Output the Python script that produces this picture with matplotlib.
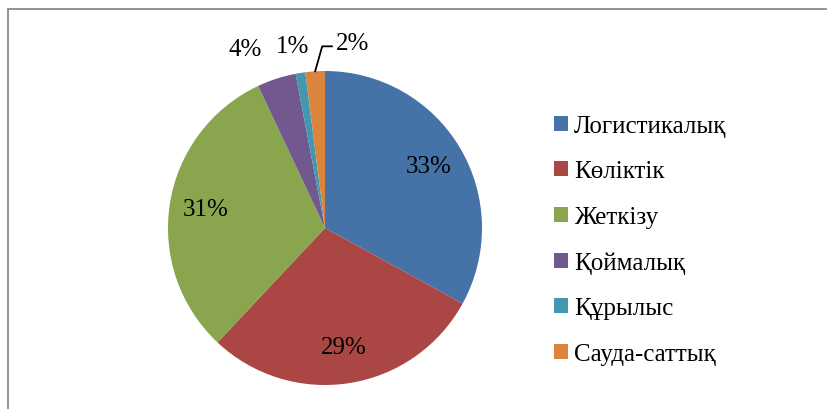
import matplotlib.pyplot as plt
import numpy as np
from matplotlib.patches import Patch, Rectangle

# data
categories = ["Логистикалық", "Көліктік", "Жеткізу", "Қоймалық", "Құрылыс", "Сауда-саттық"]
shares = [33, 29, 31, 4, 1, 2]
colors = ["#4572A7", "#AA4643", "#89A54E", "#71588F", "#4198AF", "#DB843D"]

FONT = "Liberation Serif"

W, H = 828, 410
fig = plt.figure(figsize=(W / 100, H / 100), dpi=100)
fig.patch.set_facecolor("white")

# chart border (left/top visible, rest cropped)
fig.add_artist(Rectangle((8 / W, -0.1), 1.2, (H - 10) / H + 0.1, transform=fig.transFigure,
                         fill=False, edgecolor="#808080", linewidth=1.2))

cx, cy, r = 325, H - 229, 157
ax = fig.add_axes([(cx - r) / W, (cy - r) / H, 2 * r / W, 2 * r / H])
wedges, texts, autotexts = ax.pie(shares, colors=colors, startangle=90, counterclock=False,
                                  autopct="%d%%", pctdistance=0.77)
for t in autotexts:
    t.set_fontfamily(FONT)
    t.set_fontsize(18)
ax.set_xlim(-1, 1)
ax.set_ylim(-1, 1)
ax.set_aspect("equal")

# small slices: labels outside
outside = {3: (1.25, 6), 4: (1.18, 1), 5: (1.19, -12)}
for i, (rad, dang) in outside.items():
    w = wedges[i]
    mid = np.deg2rad((w.theta1 + w.theta2) / 2 + dang)
    autotexts[i].set_position((rad * np.cos(mid), rad * np.sin(mid)))
    autotexts[i].set_clip_on(False)

# leader line for the 2% slice
w = wedges[5]
mid = np.deg2rad((w.theta1 + w.theta2) / 2)
x0, y0 = 1.0 * np.cos(mid), 1.0 * np.sin(mid)
lx, ly = autotexts[5].get_position()
ax.plot([x0, x0 + 0.045, lx - 0.13], [y0, ly - 0.02, ly - 0.02], color="black", lw=1.3, clip_on=False)

handles = [Patch(facecolor=c, edgecolor="none") for c in colors]
leg = fig.legend(handles, categories, loc="upper left", bbox_to_anchor=(554 / W, 1 - 116 / H),
                 frameon=False, fontsize=18, handlelength=0.55, handleheight=0.55,
                 handletextpad=0.25, labelspacing=0.94, borderaxespad=0, borderpad=0)
for t in leg.get_texts():
    t.set_fontfamily(FONT)

fig.savefig("out.png", dpi=100)
